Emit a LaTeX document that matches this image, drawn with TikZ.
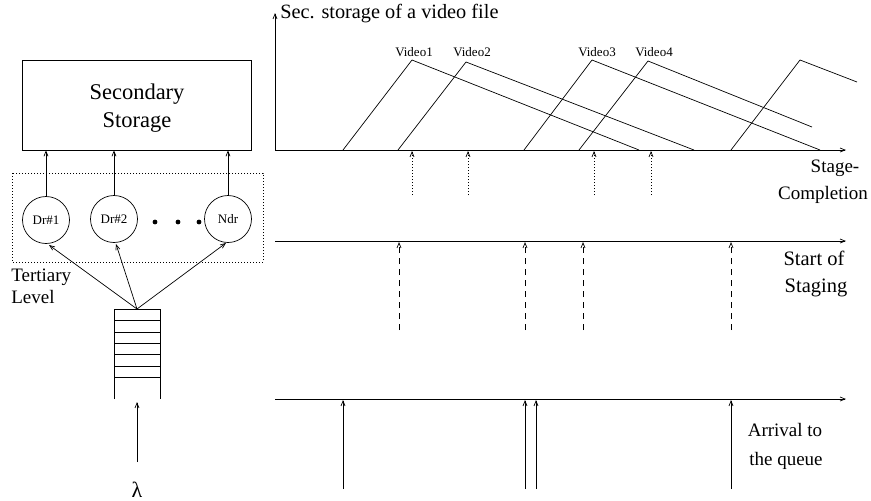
\documentclass[tikz,border=0pt]{standalone}
\usepackage{fontspec}
\setmainfont{Liberation Serif}
\usetikzlibrary{arrows.meta}
\begin{document}
\begin{tikzpicture}[x=1pt,y=-1pt,
  line width=0.7pt,
  >={Straight Barb[length=5pt,width=4pt]},
  drive/.style={draw,circle,minimum size=47pt,inner sep=0pt,font=\fontsize{13}{15}\selectfont},
  lbl/.style={font=\fontsize{19}{22}\selectfont,inner sep=0pt},
  vlbl/.style={font=\fontsize{13}{15}\selectfont,inner sep=0pt},
  dotline/.style={dash pattern=on 1pt off 2pt},
  dashline/.style={dash pattern=on 6pt off 5pt}]
\useasboundingbox (0,0) rectangle (871,501);

% ---- storage hierarchy ----
\node[draw,minimum width=229pt,minimum height=90pt,inner sep=0pt] (box) at (137,105) {};
\node[font=\fontsize{22.5}{25}\selectfont,inner sep=0pt] at (137,94) {Secondary};
\node[font=\fontsize{22.5}{25}\selectfont,inner sep=0pt] at (137,122) {Storage};

\node[drive] (d1) at (46,220) {Dr\#1};
\node[drive] (d2) at (114,219) {Dr\#2};
\node[drive] (dn) at (228,219) {Ndr};
\foreach \x in {155,178,199} \fill (\x,222) circle (2.4pt);

\draw[dotline] (12,173) rectangle (263,262);
\node[lbl,anchor=west] at (11,277) {Tertiary};
\node[lbl,anchor=west] at (11,297) {Level};

\draw[->] (d1) -- (d1 |- box.south);
\draw[->] (d2) -- (d2 |- box.south);
\draw[->] (dn) -- (dn |- box.south);

% queue
\coordinate (q) at (137,309);
\draw (114,399) -- (114,309) -- (160,309) -- (160,399);
\foreach \y in {320,332,343,354,366,377} \draw (114,\y) -- (160,\y);
\draw[->] (q) -- (49,245);
\draw[->] (q) -- (116,244);
\draw[->] (q) -- (226,243);

\node[font=\fontsize{22}{24}\selectfont,inner sep=0pt] (lam) at (137,490) {λ};
\coordinate (lamtop) at (137,462);
\draw[->] (lamtop) -- (137,402);

% ---- stage-completion plot ----
\coordinate (o) at (275,150);
\coordinate (ytop) at (275,13);
\coordinate (xend) at (846,150);
\draw[->] (o) -- (ytop);
\draw[->] (o) -- (xend);
\node[font=\fontsize{20.3}{22}\selectfont,inner sep=0pt,anchor=west] at (280,14) {Sec. storage of a video file};

\draw (343,150) -- (412,60) -- (639,150);
\draw (398,150) -- (466,62) -- (694,150);
\draw (524,150) -- (592,60) -- (820,150);
\draw (579,150) -- (648,61) -- (812,127);
\draw (731,150) -- (800,60) -- (857,82);
\node[vlbl] at (414,52) {Video1};
\node[vlbl] at (472,52) {Video2};
\node[vlbl] at (597,52) {Video3};
\node[vlbl] at (654,52) {Video4};

\foreach \x in {412,468,594,651} \draw[dotline,->] (\x,195) -- (\x,151);
\node[lbl] at (835,168) {Stage-};
\node[lbl] at (823,195) {Completion};

% ---- start of staging ----
\coordinate (s0) at (275,241);
\coordinate (s1) at (846,241);
\draw[->] (s0) -- (s1);
\foreach \x in {399,525,583,731} \draw[dashline,->] (\x,330) -- (\x,242);
\node[lbl,font=\fontsize{20.5}{23}\selectfont] at (814,258) {Start of};
\node[lbl,font=\fontsize{20.5}{23}\selectfont] at (816,288) {Staging};

% ---- arrivals ----
\coordinate (a0) at (275,399);
\coordinate (a1) at (846,399);
\draw[->] (a0) -- (a1);
\foreach \x in {343,525,536,731} \draw[->] (\x,489) -- (\x,400);
\node[lbl] at (785,430) {Arrival to};
\node[lbl] at (786,461) {the queue};
\end{tikzpicture}
\end{document}
